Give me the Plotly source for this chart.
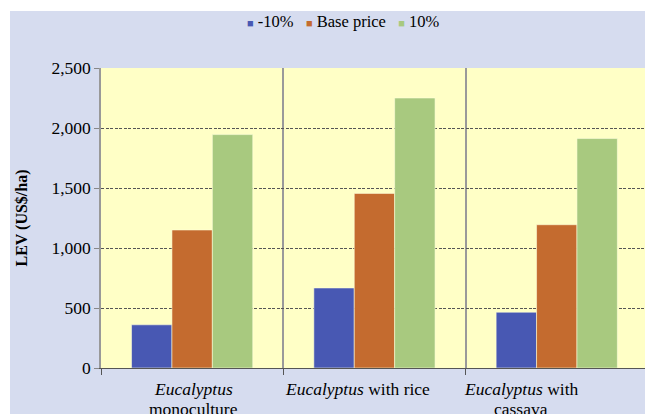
import plotly.graph_objects as go

categories = ["Eucalyptus monoculture", "Eucalyptus with rice", "Eucalyptus with cassava"]
cat_label_lines = [
    ["<i>Eucalyptus</i>", "monoculture"],
    ["<i>Eucalyptus</i> with rice"],
    ["<i>Eucalyptus</i> with", "cassava"],
]
series_names = ["-10%", "Base price", "10%"]
minus10 = [360, 667, 465]
base_price = [1150, 1455, 1194]
plus10 = [1945, 2250, 1912]
colors = ["#4858B3", "#C46B2F", "#A8C97F"]
y_ticks = [0, 500, 1000, 1500, 2000, 2500]

FONT = "Liberation Serif, Times New Roman, serif"

fig = go.Figure()
for name, vals, col in zip(series_names, [minus10, base_price, plus10], colors):
    fig.add_trace(go.Bar(
        x=categories, y=vals, name=name,
        marker=dict(color=col, line=dict(color="rgba(255,255,220,0.7)", width=0.8)),
        showlegend=False,
    ))

W, H = 645, 414
ml, mr, mt, mb = 101, 0, 68, 46
pw, ph = W - ml - mr, H - mt - mb
catw = 182.3

def px_x(p):
    return (p - ml) / pw

def px_y(p):
    return (H - mb - p) / ph

# legend as text
legend_html = "&nbsp;&nbsp;&nbsp;".join(
    f'<span style="color:{c};font-size:11px">■</span> {n}' for n, c in zip(series_names, colors)
)

annotations = [dict(
    text=legend_html, xref="paper", yref="paper", x=px_x(343.5), y=px_y(21.5),
    xanchor="center", yanchor="middle", showarrow=False,
    font=dict(family=FONT, size=16.5, color="#000"),
)]

label_offsets = [0.006, -0.094, -0.194]
for i, (lines, off) in enumerate(zip(cat_label_lines, label_offsets)):
    for k, line in enumerate(lines):
        annotations.append(dict(
            text=line, xref="x", yref="paper", x=i + off, y=0, yshift=-9 - 20 * k,
            xanchor="center", yanchor="top", showarrow=False, align="center",
            font=dict(family=FONT, size=17.5, color="#000"),
        ))

shapes = [
    dict(type="rect", xref="paper", yref="paper", x0=px_x(-5), x1=px_x(10), y0=px_y(H + 5), y1=px_y(-5),
         fillcolor="white", line=dict(width=0), layer="above"),
    dict(type="rect", xref="paper", yref="paper", x0=px_x(-5), x1=px_x(W + 5), y0=px_y(11), y1=px_y(-5),
         fillcolor="white", line=dict(width=0), layer="above"),
]

fig.update_layout(
    width=W, height=H,
    margin=dict(l=ml, r=mr, t=mt, b=mb),
    paper_bgcolor="#D6DCEF",
    plot_bgcolor="#FFFFC6",
    barmode="group", bargap=0.335, bargroupgap=0,
    font=dict(family=FONT, size=16, color="#000"),
    annotations=annotations,
    shapes=shapes,
    xaxis=dict(
        type="category",
        range=[-0.5, -0.5 + pw / catw],
        showticklabels=False,
        tickson="boundaries", ticks="outside", ticklen=6, tickcolor="#555",
        showgrid=True, gridcolor="#9A9A9A", gridwidth=1.5,
        showline=True, linecolor="#555", linewidth=1.2,
        zeroline=False,
    ),
    yaxis=dict(
        range=[0, 2500], tickvals=y_ticks, tickformat=",",
        ticks="outside", ticklen=5, tickcolor="#888",
        showgrid=True, gridcolor="#555", gridwidth=1, griddash="3px,1.5px",
        showline=True, linecolor="#999", linewidth=1.5,
        zeroline=False,
        tickfont=dict(family=FONT, size=17.5),
        title=dict(text="<b>LEV (US$/ha)</b>", font=dict(family=FONT, size=16), standoff=20),
    ),
)

fig.write_html("out.html")
